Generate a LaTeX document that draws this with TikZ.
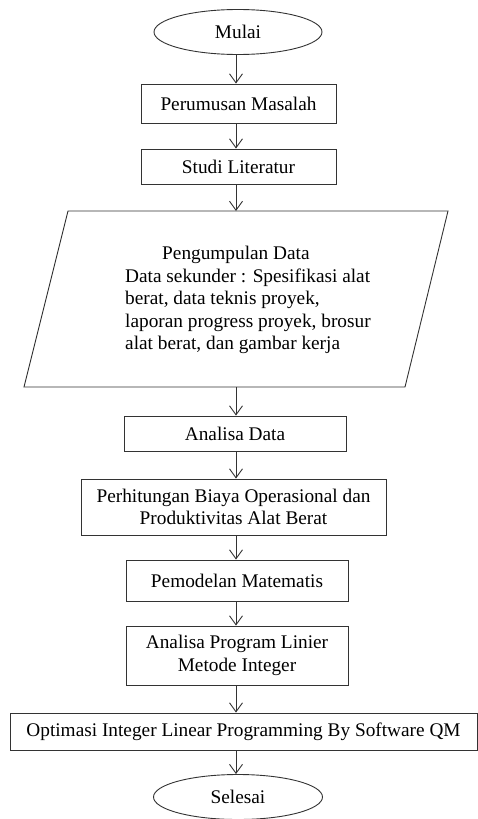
\documentclass[tikz,border=0pt]{standalone}
\usepackage{fontspec}
\setmainfont{Liberation Serif}
\usetikzlibrary{shapes.geometric,arrows.meta}
\begin{document}
\begin{tikzpicture}[x=1pt,y=-1pt,
  every node/.style={font=\fontsize{19.3}{22.5}\selectfont, text=black},
  box/.style={draw=black!80, line width=0.9pt, rectangle, inner sep=0pt, align=center},
  term/.style={draw=black!80, line width=0.9pt, ellipse, inner sep=0pt, minimum width=168pt, minimum height=45pt},
  flow/.style={draw=black!80, line width=0.9pt, -{Straight Barb[length=9pt,width=13pt]}},
  edge/.style={draw=black!80, line width=0.9pt}]
\useasboundingbox (0,0) rectangle (478,819);
\node[term] (mulai) at (238,32) {Mulai};
\node[box, minimum width=195pt, minimum height=39pt] (perumusan) at (238.5,103.5) {Perumusan Masalah};
\node[box, minimum width=195pt, minimum height=35pt] (studi) at (238.5,166.5) {Studi Literatur};
\coordinate (ptl) at (68,211);
\coordinate (ptr) at (448,211);
\coordinate (pbr) at (405,387);
\coordinate (pbl) at (24,387);
\draw[edge] (ptl) -- (ptr) -- (pbr) -- (pbl) -- cycle;
\coordinate (dtop) at (236,211);
\coordinate (dbot) at (236,387);
\node[inner sep=0pt, align=left, anchor=west] (data) at (125,300) {\hspace*{37pt}Pengumpulan Data\\Data sekunder : Spesifikasi alat\\berat, data teknis proyek,\\laporan progress proyek, brosur\\alat berat, dan gambar kerja};
\node[box, minimum width=222pt, minimum height=35pt] (analisa) at (235,433.5) {Analisa Data};
\node[box, minimum width=305pt, minimum height=56pt] (hitung) at (233.5,507) {Perhitungan Biaya Operasional dan\\Produktivitas Alat Berat};
\node[box, minimum width=222pt, minimum height=41pt] (model) at (237,580.5) {Pemodelan Matematis};
\node[box, minimum width=222pt, minimum height=59pt] (program) at (237,655.5) {Analisa Program Linier\\Metode Integer};
\node[box, minimum width=467pt, minimum height=37pt] (optim) at (243.5,731.5) {Optimasi Integer Linear Programming By Software QM};
\node[term, minimum width=169pt] (selesai) at (238,797) {Selesai};
\draw[flow] (mulai.south -| 236,0) -- (perumusan.north -| 236,0);
\draw[flow] (perumusan.south -| 236,0) -- (studi.north -| 236,0);
\draw[flow] (studi.south -| 236,0) -- (dtop);
\draw[flow] (dbot) -- (analisa.north -| 236,0);
\draw[flow] (analisa.south -| 236,0) -- (hitung.north -| 236,0);
\draw[flow] (hitung.south -| 236,0) -- (model.north -| 236,0);
\draw[flow] (model.south -| 236,0) -- (program.north -| 236,0);
\draw[flow] (program.south -| 236,0) -- (optim.north -| 236,0);
\draw[flow] (optim.south -| 236,0) -- (selesai.north -| 236,0);
\end{tikzpicture}
\end{document}
